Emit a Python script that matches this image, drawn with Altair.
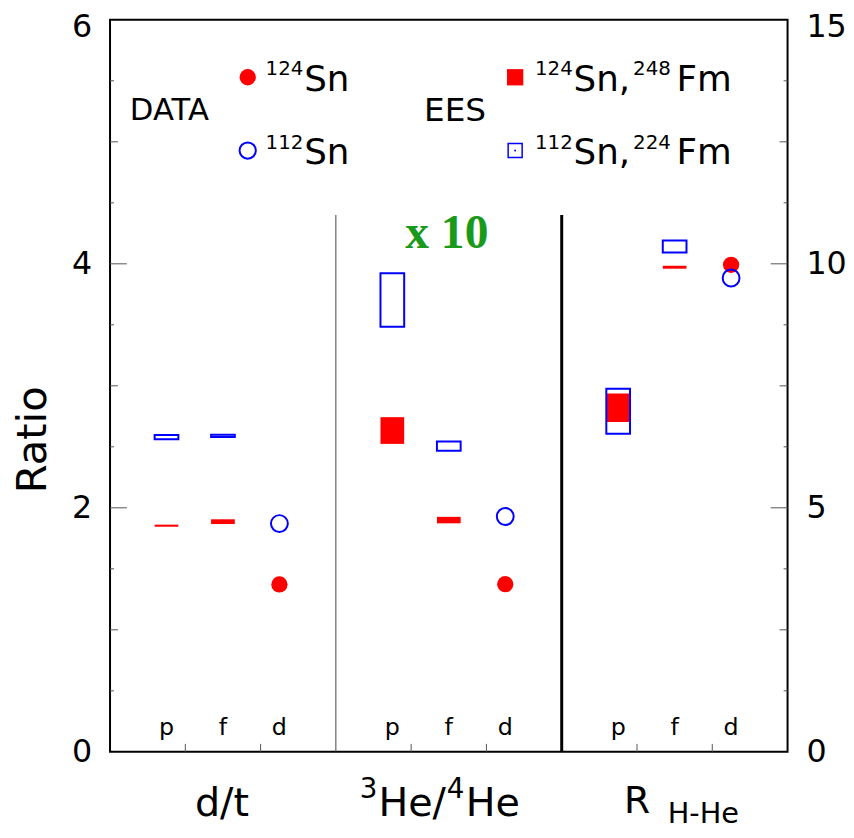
import altair as alt
import pandas as pd

FONT = "DejaVu Sans"

# ---------------- data ----------------
# Left-axis panels: d/t and 3He/4He (x10).  x positions: p=1,f=2,d=3 | p=5,f=6,d=7
left_ees_x = [1, 2, 5, 6]
ees124_left_lo = [1.845, 1.867, 2.524, 1.873]
ees124_left_hi = [1.862, 1.906, 2.743, 1.926]
ees112_left_lo = [2.562, 2.580, 3.485, 2.468]
ees112_left_hi = [2.597, 2.598, 3.923, 2.543]
left_data_x = [3, 7]
data124_left = [1.372, 1.374]
data112_left = [1.871, 1.929]

# Right-axis panel: R_H-He.  x positions: p=9,f=10,d=11
right_ees_x = [9, 10]
ees124_right_lo = [6.76, 9.90]
ees124_right_hi = [7.34, 9.96]
ees112_right_lo = [6.52, 10.23]
ees112_right_hi = [7.44, 10.48]
right_data_x = [11]
data124_right = [9.98]
data112_right = [9.71]

# category labels
cat_x = [1, 2, 3, 5, 6, 7, 9, 10, 11]
cat_text = ["p", "f", "d", "p", "f", "d", "p", "f", "d"]

# panel separators
sep_thin_x = [4]
sep_thick_x = [8]
sep_top = [4.40]
sep_bottom = [0]

# tick values / labels
left_labels = [0, 2, 4]
left_top_label = [6]
right_labels = [0, 5, 10]
right_top_label = [15]
left_ticks_major = [2, 4]
left_ticks_mid = [1, 3, 5]
left_ticks_minor = [0.5, 1.5, 2.5, 3.5, 4.5, 5.5]
right_ticks_major = [5, 10]
right_ticks_mid = [2.5, 7.5, 12.5]
right_ticks_minor = [1.25, 3.75, 6.25, 8.75, 11.25, 13.75]
bottom_ticks = [4 / 3, 8 / 3, 16 / 3, 20 / 3, 28 / 3, 32 / 3]

HALF = 0.21
W, H = 684, 739

Xs = alt.Scale(domain=[0, 12], nice=False, zero=False)
Ls = alt.Scale(domain=[0, 6], nice=False, zero=False)
Rs = alt.Scale(domain=[0, 15], nice=False, zero=False)

TICK = "#555555"


def df(**cols):
    return pd.DataFrame(cols)


def yticks(vals, scale, x0, x1):
    return alt.Chart(df(v=vals)).mark_rule(color=TICK, strokeWidth=1).encode(
        y=alt.Y("v:Q", scale=scale, axis=None), x=alt.value(x0), x2=alt.value(x1))


def ylabels(vals, scale, x, align, dy=0):
    return alt.Chart(df(v=vals)).mark_text(
        font=FONT, fontSize=32, color="black", align=align, baseline="middle", dy=dy).encode(
        y=alt.Y("v:Q", scale=scale, axis=None), x=alt.value(x), text=alt.Text("v:Q", format="d"))


bt = alt.Chart(df(x=bottom_ticks)).mark_rule(color=TICK, strokeWidth=1).encode(
    x=alt.X("x:Q", scale=Xs, axis=None), y=alt.value(H), y2=alt.value(H - 8))

sep_thin = alt.Chart(df(x=sep_thin_x, t=sep_top, b=sep_bottom)).mark_rule(
    color="#444444", strokeWidth=1).encode(
    x=alt.X("x:Q", scale=Xs, axis=None), y=alt.Y("t:Q", scale=Ls, axis=None), y2="b:Q")
sep_thick = alt.Chart(df(x=sep_thick_x, t=sep_top, b=sep_bottom)).mark_rule(
    color="black", strokeWidth=3).encode(
    x=alt.X("x:Q", scale=Xs, axis=None), y=alt.Y("t:Q", scale=Ls, axis=None), y2="b:Q")


def rects(x, lo, hi, scale, filled):
    c = alt.Chart(df(x=x, lo=lo, hi=hi)).transform_calculate(
        xa=f"datum.x - {HALF}", xb=f"datum.x + {HALF}")
    if filled:
        m = c.mark_rect(color="#ff0000")
    else:
        m = c.mark_rect(fill="#ffffff", fillOpacity=0, stroke="#0000ff", strokeWidth=2)
    return m.encode(x=alt.X("xa:Q", scale=Xs, axis=None), x2="xb:Q",
                    y=alt.Y("lo:Q", scale=scale, axis=None), y2="hi:Q")


def pts(x, v, scale, filled):
    c = alt.Chart(df(x=x, v=v))
    if filled:
        m = c.mark_point(shape="circle", filled=True, color="#ff0000", size=270, opacity=1)
    else:
        m = c.mark_point(shape="circle", filled=False, color="#0000ff", size=290,
                         strokeWidth=2, opacity=1)
    return m.encode(x=alt.X("x:Q", scale=Xs, axis=None), y=alt.Y("v:Q", scale=scale, axis=None))


cats = alt.Chart(df(x=cat_x, t=cat_text)).mark_text(
    font=FONT, fontSize=24, color="black", baseline="middle").encode(
    x=alt.X("x:Q", scale=Xs, axis=None), y=alt.value(715), text="t:N")


def label(txt, x, y, size=30, align="left", font=FONT, weight="normal", color="black", angle=0):
    return alt.Chart(df(t=[txt])).mark_text(
        font=font, fontSize=size, fontWeight=weight, color=color, align=align,
        baseline="middle", angle=angle).encode(x=alt.value(x), y=alt.value(y), text="t:N")


def sym(x, y, shape, filled, color, size, sw=2):
    return alt.Chart(df(a=[0])).mark_point(
        shape=shape, filled=filled, color=color, size=size, strokeWidth=sw, opacity=1).encode(
        x=alt.value(x), y=alt.value(y))


SUP, MAIN = 20, 36
texts = [
    sym(139, 58, "circle", True, "#ff0000", 270),
    sym(139, 132, "circle", False, "#0000ff", 270),
    sym(409, 58, "square", True, "#ff0000", 270),
    sym(409, 132, "square", False, "#0000ff", 200, 1.5),
    sym(409, 132, "square", True, "#0000ff", 3),
    # DATA legend
    label("124", 157, 50, SUP), label("Sn", 196, 61, MAIN),
    label("112", 157, 124, SUP), label("Sn", 196, 135, MAIN),
    label("DATA", 20, 92, 31),
    # EES legend
    label("EES", 317, 92, 33),
    label("124", 429, 50, SUP), label("Sn,", 468, 61, MAIN),
    label("248", 528, 50, SUP), label("Fm", 572, 61, MAIN),
    label("112", 429, 124, SUP), label("Sn,", 468, 135, MAIN),
    label("224", 528, 124, SUP), label("Fm", 572, 135, MAIN),
    # x10 note
    label("x 10", 340, 216, 48, align="center", font="Liberation Serif", weight="bold",
          color="#1a9a1a"),
    # axis title
    label("Ratio", -78, 424, 42, align="center", angle=270),
    # bottom panel labels
    label("d/t", 113, 792, 40, align="center"),
    label("3", 252, 778, 28), label("He/", 271, 792, 40),
    label("4", 340, 778, 28), label("He", 359, 792, 40),
    label("R", 532, 790, 38, align="center"),
    label("H-He", 599, 802, 29, align="center"),
]

left_layer = alt.layer(
    yticks(left_ticks_major, Ls, 0, 17),
    yticks(left_ticks_mid, Ls, 0, 8),
    yticks(left_ticks_minor, Ls, 0, 4),
    ylabels(left_labels, Ls, -18, "right"),
    ylabels(left_top_label, Ls, -18, "right", dy=7),
    bt, sep_thin, sep_thick,
    rects(left_ees_x, ees124_left_lo, ees124_left_hi, Ls, True),
    rects(left_ees_x, ees112_left_lo, ees112_left_hi, Ls, False),
    pts(left_data_x, data112_left, Ls, False),
    pts(left_data_x, data124_left, Ls, True),
    cats, *texts,
)

right_layer = alt.layer(
    yticks(right_ticks_major, Rs, W, W - 17),
    yticks(right_ticks_mid, Rs, W, W - 8),
    yticks(right_ticks_minor, Rs, W, W - 4),
    ylabels(right_labels, Rs, W + 19, "left"),
    ylabels(right_top_label, Rs, W + 19, "left", dy=7),
    rects(right_ees_x, ees124_right_lo, ees124_right_hi, Rs, True),
    rects(right_ees_x, ees112_right_lo, ees112_right_hi, Rs, False),
    pts(right_data_x, data124_right, Rs, True),
    pts(right_data_x, data112_right, Rs, False),
)

chart = alt.layer(left_layer, right_layer).resolve_scale(y="independent").properties(
    width=W, height=H, autosize="none",
    padding={"left": 103, "top": 8, "right": 59, "bottom": 75},
).configure_view(stroke="black", strokeWidth=2)

chart.save("out.html", embed_options={"renderer": "svg", "actions": False})
